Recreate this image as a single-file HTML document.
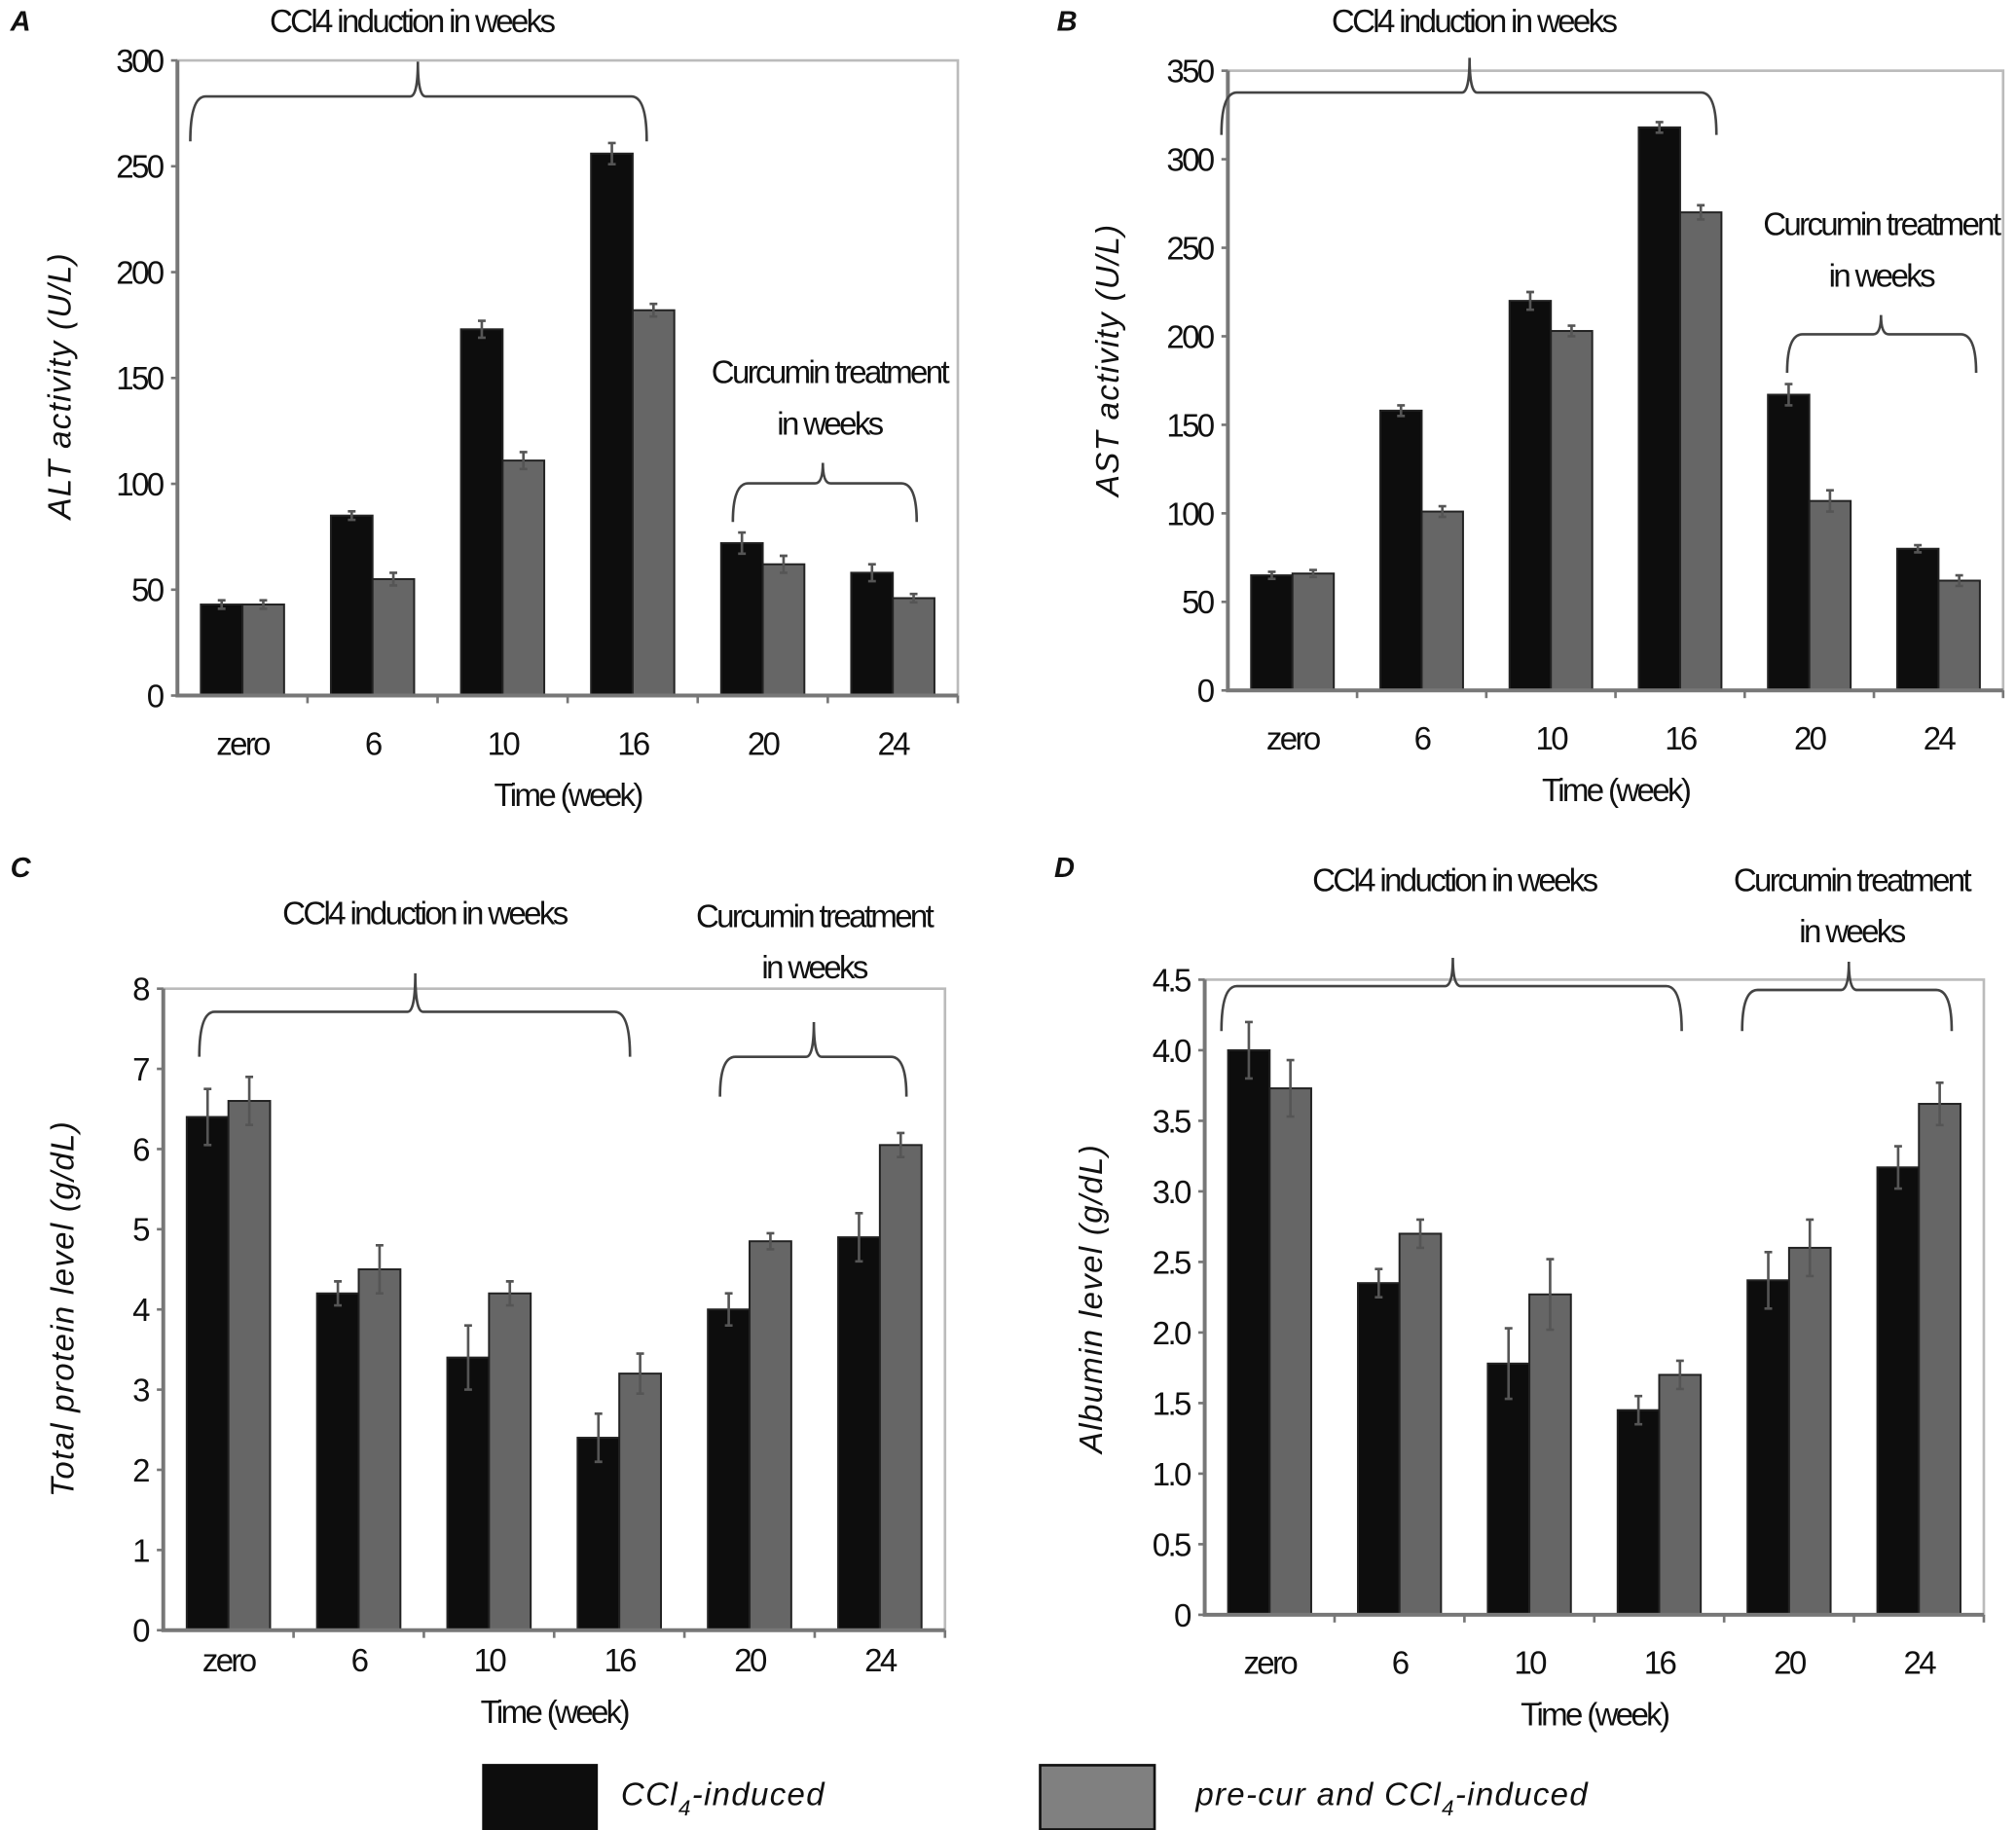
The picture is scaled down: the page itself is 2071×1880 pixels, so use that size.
<!DOCTYPE html>
<html><head><meta charset="utf-8"><style>
html,body{margin:0;padding:0;background:#fff;}
svg{display:block;}
text{font-family:"Liberation Sans",sans-serif;fill:#111;}
.tk{font-size:25px;letter-spacing:-2px;}
.ann{font-size:25px;letter-spacing:-2px;}
.yt{font-size:25px;font-style:italic;letter-spacing:1px;}
.pl{font-size:22px;font-style:italic;font-weight:bold;}
</style></head><body>
<svg id="fig" width="2071" height="1880" viewBox="0 0 1568 1423.4" xmlns="http://www.w3.org/2000/svg"></svg>
<script>
const categories = ["zero","6","10","16","20","24"];
const altBlack = [43,85,173,256,72,58];
const altGray  = [43,55,111,182,62,46];
const altBlackErr = [2,2,4,5,5,4];
const altGrayErr  = [2,3,4,3,4,2];
const altTicks = [0,50,100,150,200,250,300];
const astBlack = [65,158,220,318,167,80];
const astGray  = [66,101,203,270,107,62];
const astBlackErr = [2,3,5,3,6,2];
const astGrayErr  = [2,3,3,4,6,3];
const astTicks = [0,50,100,150,200,250,300,350];
const tpBlack = [6.4,4.2,3.4,2.4,4.0,4.9];
const tpGray  = [6.6,4.5,4.2,3.2,4.85,6.05];
const tpBlackErr = [0.35,0.15,0.4,0.3,0.2,0.3];
const tpGrayErr  = [0.3,0.3,0.15,0.25,0.1,0.15];
const tpTicks = [0,1,2,3,4,5,6,7,8];
const albBlack = [4.0,2.35,1.78,1.45,2.37,3.17];
const albGray  = [3.73,2.7,2.27,1.7,2.6,3.62];
const albBlackErr = [0.2,0.1,0.25,0.1,0.2,0.15];
const albGrayErr  = [0.2,0.1,0.25,0.1,0.2,0.15];
const albTicks = ["0","0.5","1.0","1.5","2.0","2.5","3.0","3.5","4.0","4.5"];

const NS="http://www.w3.org/2000/svg";
const svg=document.getElementById('fig');
function mk(tag,attrs,parent,txt){const e=document.createElementNS(NS,tag);for(const k in attrs)e.setAttribute(k,attrs[k]);if(txt!==undefined)e.textContent=txt;(parent||svg).appendChild(e);return e;}

function bracket(g,x1,x2,y,yEnd,xm,yTop,name){
  const p=mk('path',{d:`M${x1},${yEnd} Q${x1},${y} ${x1+12},${y} L${xm-6},${y} Q${xm},${y} ${xm},${yTop} Q${xm},${y} ${xm+6},${y} L${x2-12},${y} Q${x2},${y} ${x2},${yEnd}`,fill:'none',stroke:'#444','stroke-width':2},g);
  
  
}

function panel(o){
  const g=mk('g',{});
  
  
  const ymax=o.ymax;
  const yS=v=>o.y0-(v/ymax)*(o.y0-o.yTop);
  const step=(o.xR-o.xL)/categories.length;
  const xS=i=>o.xL+step*(i+0.5);
  const lo=o.lblOff||46;
  const fr=mk('rect',{x:o.xL,y:o.yTop,width:o.xR-o.xL,height:o.y0-o.yTop,fill:'none',stroke:'#bbb','stroke-width':2},g);
  
  
  const bw=step*0.32;
  [[o.black,o.blackErr,'#0d0d0d',-1],[o.gray,o.grayErr,'#666',0]].forEach((s,si)=>{
    s[0].forEach((v,i)=>{
      const x=xS(i)+s[3]*bw;
      const r=mk('rect',{x:x,y:yS(v),width:bw,height:o.y0-yS(v),fill:s[2],stroke:'#222','stroke-width':1.5},g);
      
      
      const cx=x+bw/2, e=s[1][i];
      const l=mk('path',{d:`M${cx},${yS(v+e)} V${yS(v-e)} M${cx-3},${yS(v+e)} H${cx+3} M${cx-3},${yS(v-e)} H${cx+3}`,stroke:'#555','stroke-width':2,fill:'none'},g);
      
      
    });
  });
  const ax=mk('path',{d:`M${o.xL},${o.yTop} V${o.y0} H${o.xR}`,stroke:'#777','stroke-width':3,fill:'none'},g);
  
  
  o.ticks.forEach(t=>{
    const y=yS(parseFloat(t));
    mk('line',{x1:o.xL-5,x2:o.xL,y1:y,y2:y,stroke:'#777','stroke-width':2},g);
    const tx=mk('text',{x:o.xL-12,y:y+9,'text-anchor':'end',class:'tk'},g,String(t));
    
    
  });
  categories.forEach((c,i)=>{
    mk('line',{x1:o.xL+step*(i+1),x2:o.xL+step*(i+1),y1:o.y0,y2:o.y0+6,stroke:'#777','stroke-width':2},g);
    const tx=mk('text',{x:xS(i),y:o.y0+lo,'text-anchor':'middle',class:'tk'},g,c);
    
    
  });
  const xt=mk('text',{x:(o.xL+o.xR)/2,y:o.y0+lo+40,'text-anchor':'middle',class:'tk'},g,'Time (week)');
  
  
  const yt=mk('text',{x:0,y:0,'text-anchor':'middle',class:'yt',transform:`translate(${o.ytx},${o.yty}) rotate(-90)`},g,o.ytitle);
  
  
  const pl=mk('text',{x:o.plx,y:o.ply,class:'pl'},g,o.label);
  
  
  o.anns.forEach(a=>{
    const t=mk('text',{x:a[0],y:a[1],'text-anchor':'middle',class:'ann'},g,a[2]);
    
    
  });
  o.brackets.forEach(b=>bracket(g,...b));
}

panel({name:'panel-a-alt',label:'A',plx:8,ply:24,xL:138,xR:745,y0:541,yTop:47,ymax:300,ticks:altTicks,black:altBlack,gray:altGray,blackErr:altBlackErr,grayErr:altGrayErr,ytitle:'ALT activity (U/L)',ytx:55,yty:300,
  anns:[[320,25,'CCl4 induction in weeks'],[645,298,'Curcumin treatment'],[645,338,'in weeks']],
  brackets:[[148,503,75,110,325,48,'ccl4-bracket'],[570,713,376,406,640,360,'curcumin-bracket']]});
panel({name:'panel-b-ast',label:'B',plx:822,ply:24,xL:955,xR:1558,y0:537,yTop:55,ymax:350,ticks:astTicks,black:astBlack,gray:astGray,blackErr:astBlackErr,grayErr:astGrayErr,ytitle:'AST activity (U/L)',ytx:870,yty:280,
  anns:[[1146,25,'CCl4 induction in weeks'],[1463,183,'Curcumin treatment'],[1463,223,'in weeks']],
  brackets:[[950,1335,72,105,1143,45,'ccl4-bracket'],[1390,1537,260,290,1463,245,'curcumin-bracket']]});
panel({name:'panel-c-total-protein',label:'C',plx:8,ply:682,xL:127,xR:735,y0:1268,yTop:769,ymax:8,lblOff:32,ticks:tpTicks,black:tpBlack,gray:tpGray,blackErr:tpBlackErr,grayErr:tpGrayErr,ytitle:'Total protein level (g/dL)',ytx:57,yty:1018,
  anns:[[330,719,'CCl4 induction in weeks'],[633,721,'Curcumin treatment'],[633,761,'in weeks']],
  brackets:[[155,490,787,822,323,757,'ccl4-bracket'],[560,705,822,853,633,795,'curcumin-bracket']]});
panel({name:'panel-d-albumin',label:'D',plx:820,ply:682,xL:937,xR:1543,y0:1256,yTop:762,ymax:4.5,ticks:albTicks,black:albBlack,gray:albGray,blackErr:albBlackErr,grayErr:albGrayErr,ytitle:'Albumin level (g/dL)',ytx:857,yty:1010,
  anns:[[1131,693,'CCl4 induction in weeks'],[1440,693,'Curcumin treatment'],[1440,733,'in weeks']],
  brackets:[[950,1308,767,802,1130,745,'ccl4-bracket'],[1355,1518,770,802,1438,748,'curcumin-bracket']]});

const lg=mk('g',{});


const b1=mk('rect',{x:375,y:1372,width:90,height:52,fill:'#0d0d0d'},lg);


const t1=mk('text',{x:483,y:1404,class:'yt'},lg);


t1.innerHTML='CCl<tspan dy="8" font-size="17">4</tspan><tspan dy="-8">-induced</tspan>';
const b2=mk('rect',{x:809,y:1373,width:89,height:50,fill:'#808080',stroke:'#111','stroke-width':2},lg);


const t2=mk('text',{x:930,y:1404,class:'yt'},lg);


t2.innerHTML='pre-cur and CCl<tspan dy="8" font-size="17">4</tspan><tspan dy="-8">-induced</tspan>';
</script>
</body></html>
